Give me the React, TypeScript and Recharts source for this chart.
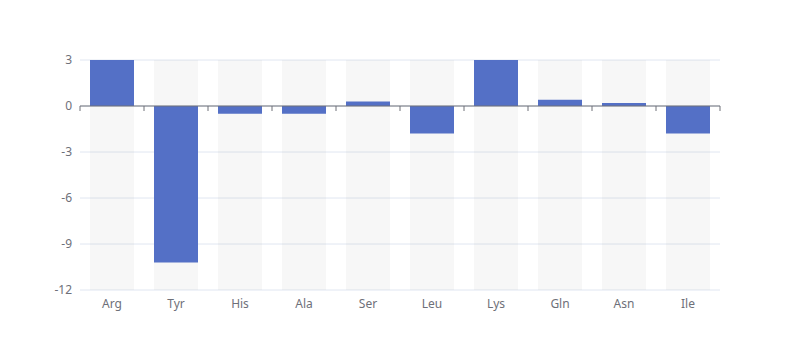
import { BarChart, Bar, XAxis, YAxis, CartesianGrid, ReferenceLine } from 'recharts';

const aminoAcids = ['Arg', 'Tyr', 'His', 'Ala', 'Ser', 'Leu', 'Lys', 'Gln', 'Asn', 'Ile'];
const values = [3, -10.2, -0.5, -0.5, 0.3, -1.8, 3, 0.4, 0.2, -1.8];
const yTicks = [3, 0, -3, -6, -9, -12];

const data = aminoAcids.map((name, i) => ({ name, value: values[i] }));

const AXIS_COLOR = '#6E7079';

// zero line with category boundary ticks, like an axis sitting on 0
function ZeroAxis(props: any) {
    const { x1, y1, x2 } = props;
    const step = (x2 - x1) / aminoAcids.length;
    const marks = [];
    for (let i = 0; i <= aminoAcids.length; i++) {
        const x = x1 + step * i;
        marks.push(<line key={i} x1={x} y1={y1} x2={x} y2={y1 + 5} stroke={AXIS_COLOR} strokeWidth={1} />);
    }
    return (
        <g>
            <line x1={x1} y1={y1} x2={x2} y2={y1} stroke={AXIS_COLOR} strokeWidth={1} />
            {marks}
        </g>
    );
}

export default function App() {
    return (
        <div style={{ position: 'absolute', left: 0, top: 0, width: 800, height: 360, background: '#fff' }}>
            <BarChart
                width={800}
                height={360}
                data={data}
                margin={{ top: 60, right: 80, bottom: 0, left: 0 }}
                style={{ fontFamily: '"Noto Sans", sans-serif' }}
            >
                <CartesianGrid vertical={false} stroke="#E0E6F1" />
                <XAxis
                    dataKey="name"
                    axisLine={false}
                    tickLine={false}
                    tickSize={0}
                    tickMargin={9}
                    height={70}
                    interval={0}
                    tick={{ fill: AXIS_COLOR, fontSize: 12 }}
                />
                <YAxis
                    type="number"
                    domain={[-12, 3]}
                    ticks={yTicks}
                    allowDataOverflow
                    width={80}
                    axisLine={false}
                    tickLine={false}
                    tickSize={0}
                    tickMargin={8}
                    tick={{ fill: AXIS_COLOR, fontSize: 12 }}
                />
                {/* translucent background so grid lines still show through */}
                <Bar
                    dataKey="value"
                    fill="#5470C6"
                    barSize={44}
                    background={{ fill: 'rgba(180,180,180,0.1)' }}
                    isAnimationActive={false}
                />
                <ReferenceLine y={0} shape={ZeroAxis} />
            </BarChart>
        </div>
    );
}
